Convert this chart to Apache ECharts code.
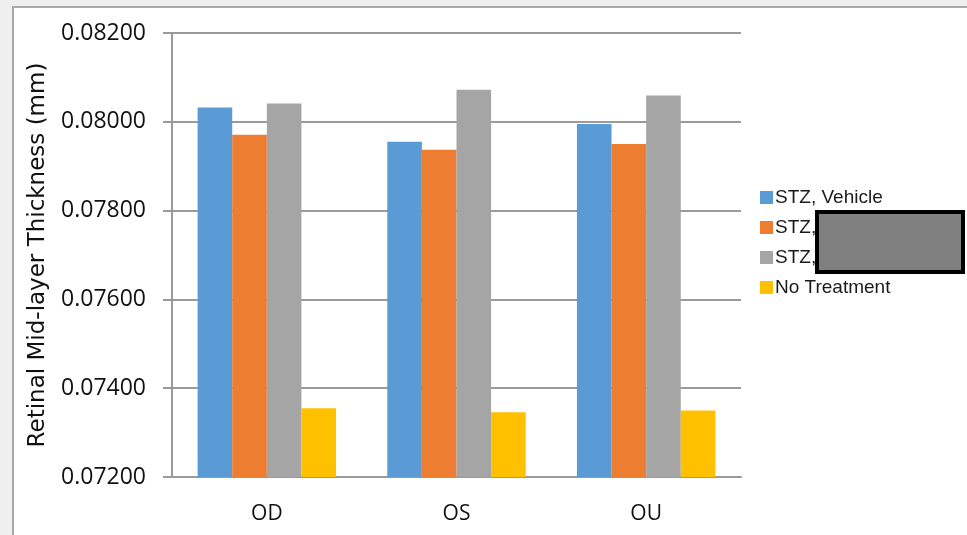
<!DOCTYPE html>
<html>
<head>
<meta charset="utf-8">
<script src="https://cdn.jsdelivr.net/npm/echarts@6/dist/echarts.min.js"></script>
<style>
  html, body { margin: 0; padding: 0; background: #efefef; }
  #chart { width: 967px; height: 535px; }
</style>
</head>
<body>
<div id="chart"></div>
<script>
// data
const categories = ['OD', 'OS', 'OU']
const seriesNames = ['STZ, Vehicle', 'STZ, ', 'STZ,  ', 'No Treatment']
const stzVehicle = [0.08032, 0.07955, 0.07995]
const stzDoseA = [0.07971, 0.07937, 0.07950]
const stzDoseB = [0.08041, 0.08072, 0.08059]
const noTreatment = [0.07355, 0.07346, 0.07350]
const yTicks = [0.072, 0.074, 0.076, 0.078, 0.080, 0.082]

const colors = ['#5b9bd5', '#ed7d31', '#a5a5a5', '#ffc000']
const values = [stzVehicle, stzDoseA, stzDoseB, noTreatment]

const chart = echarts.init(document.getElementById('chart'))

const gridColor = '#9a9a9a'

const option = {
  backgroundColor: 'transparent',
  animation: false,
  graphic: [
    {
      type: 'rect',
      z: -10,
      shape: { x: 13, y: 7, width: 980, height: 560 },
      style: { fill: '#ffffff', stroke: '#a8a8a8', lineWidth: 2 }
    },
    {
      // redaction box over legend text
      type: 'rect',
      z: 100,
      shape: { x: 817, y: 212, width: 146, height: 60 },
      style: { fill: '#808080', stroke: '#000000', lineWidth: 4 }
    }
  ],
  legend: {
    orient: 'vertical',
    left: 755,
    top: 183,
    itemWidth: 13,
    itemHeight: 13,
    itemGap: 11,
    icon: 'rect',
    data: seriesNames,
    textStyle: {
      fontFamily: '"Liberation Sans Narrow", "Liberation Sans", Arial, sans-serif',
      fontSize: 19,
      color: '#1a1a1a',
      padding: [0, 0, 0, -3]
    }
  },
  grid: {
    left: 172,
    right: 226,
    top: 33,
    bottom: 58
  },
  xAxis: {
    type: 'category',
    data: categories,
    axisLine: { lineStyle: { color: gridColor, width: 2 } },
    axisTick: { show: false },
    axisLabel: {
      margin: 27,
      fontFamily: '"Open Sans", sans-serif',
      fontSize: 21,
      color: '#111'
    }
  },
  yAxis: {
    type: 'value',
    min: yTicks[0],
    max: yTicks[yTicks.length - 1],
    interval: 0.002,
    name: 'Retinal Mid-layer Thickness (mm)',
    nameLocation: 'middle',
    nameGap: 122,
    nameTextStyle: {
      fontFamily: '"DejaVu Sans", sans-serif',
      fontSize: 23,
      color: '#111'
    },
    axisLine: { show: true, lineStyle: { color: gridColor, width: 2 } },
    axisTick: { show: true, length: 9, lineStyle: { color: gridColor, width: 2 } },
    splitLine: { lineStyle: { color: gridColor, width: 2 } },
    axisLabel: {
      margin: 26,
      fontFamily: '"Open Sans", sans-serif',
      fontSize: 23,
      color: '#111',
      formatter: v => v.toFixed(5)
    }
  },
  series: seriesNames.map((name, i) => ({
    name: name,
    type: 'bar',
    data: values[i],
    barGap: '0%',
    barCategoryGap: '27%',
    itemStyle: { color: colors[i] }
  }))
}

chart.setOption(option)
</script>
</body>
</html>
